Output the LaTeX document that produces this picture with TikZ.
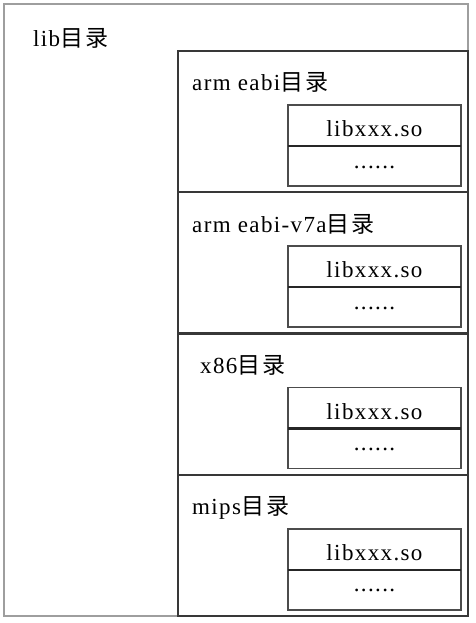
\documentclass[tikz,border=0pt]{standalone}
\usepackage{fontspec}
\setmainfont{Liberation Serif}[LetterSpace=6]
\newfontfamily\cjk{Noto Sans CJK SC}[LetterSpace=10]
\begin{document}
\begin{tikzpicture}[x=1pt,y=1pt,
  outerbox/.style={draw=black!38,line width=2.6pt},
  secbox/.style={draw=black!78,line width=2.2pt},
  filebox/.style={draw=black!70,line width=1.8pt},
  filediv/.style={draw=black!85,line width=2.2pt},
  lbl/.style={anchor=base west,inner sep=0pt,font=\fontsize{23}{26}\selectfont},
  flbl/.style={anchor=base,inner sep=0pt,font=\fontsize{23}{26}\selectfont}]
\useasboundingbox (0,0) rectangle (475,-623);
\fill[white] (0,0) rectangle (475,-623);
\draw[outerbox] (4,-4) rectangle (468,-616);
\node[lbl] (lib) at (33,-47) {lib{\cjk 目录}};
\foreach \i/\name/\dx in {0/arm eabi/192,1/arm eabi-v7a/192,2/x86/200,3/mips/192}{
  \pgfmathsetmacro{\t}{-51-141.25*\i}
  \draw[secbox] (178,\t) rectangle (468,\t-141.25);
  \node[lbl] (sec\i) at (\dx,\t-40) {\name{\cjk 目录}};
  \draw[filebox] (288,\t-54) rectangle (461,\t-135);
  \draw[filediv] (288,\t-95) -- (461,\t-95);
  \node[flbl] (so\i) at (374.5,\t-85.5) {libxxx.so};
  \node[flbl] (dots\i) at (374.5,\t-117) {......};
}
\end{tikzpicture}
\end{document}
